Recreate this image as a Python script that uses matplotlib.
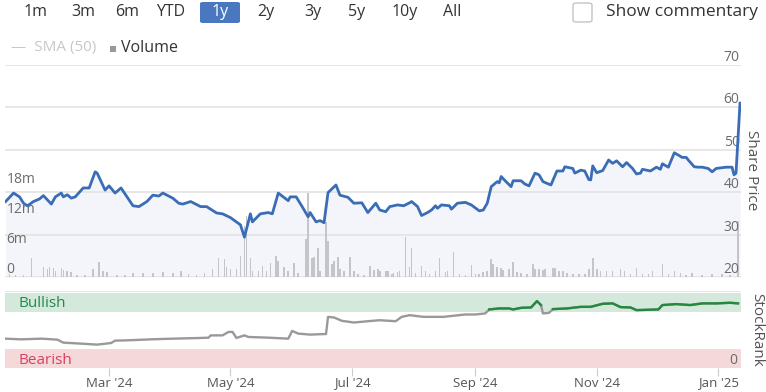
import numpy as np
import matplotlib
matplotlib.use("Agg")
import matplotlib.pyplot as plt
import matplotlib.dates as mdates
from matplotlib.patches import FancyBboxPatch

plt.rcParams['font.family'] = ['Open Sans', 'DejaVu Sans']

# ---- data (days counted from 2024-01-09) ----
start = np.datetime64('2024-01-09')

price_day = [0, 4, 7, 9, 11, 14, 17, 19, 23, 25, 28, 29, 31, 33, 35, 39, 42, 45, 46, 48,
             50, 52, 55, 58, 61, 64, 67, 71, 74, 77, 79, 84, 87, 89, 93, 98, 101, 106, 109, 113,
             118, 120, 123, 124, 128, 132, 134, 137, 142, 143, 146, 149, 152, 153, 156, 158, 160, 162, 166, 168,
             172, 175, 179, 182, 186, 188, 191, 193, 197, 200, 203, 204, 207, 209, 212, 214, 216, 217, 219, 223,
             224, 227, 231, 234, 238, 240, 242, 244, 247, 248, 249, 251, 254, 255, 259, 261, 263, 266, 268, 270,
             274, 277, 280, 281, 285, 286, 289, 291, 293, 294, 295, 297, 300, 303, 305, 307, 310, 312, 315, 317,
             319, 320, 324, 327, 329, 330, 333, 336, 340, 342, 343, 346, 348, 350, 353, 355, 357, 362, 365, 366,
             367, 369]
price = [37.8, 39.8, 38.9, 37.4, 36.8, 37.8, 38.4, 39.2, 37.2, 38.9, 39.8, 38.9, 39.4, 38.6, 38.9, 41.0, 41.0, 44.8, 44.5, 42.5,
         40.5, 41.5, 39.8, 41.0, 38.9, 36.8, 36.6, 37.8, 39.3, 39.1, 39.8, 38.6, 37.4, 37.2, 37.8, 36.6, 36.6, 35.1, 34.9, 34.0,
         32.3, 29.4, 34.9, 33.0, 34.9, 35.2, 34.9, 39.8, 38.0, 38.9, 38.9, 36.6, 34.2, 35.2, 33.0, 33.3, 32.8, 39.9, 41.7, 39.3,
         38.8, 37.4, 37.5, 35.2, 37.4, 35.8, 35.4, 36.6, 37.0, 36.8, 37.5, 37.8, 36.6, 34.5, 35.2, 35.8, 36.8, 36.2, 37.0, 36.8,
         36.0, 37.4, 37.6, 37.0, 35.6, 35.8, 37.4, 41.3, 42.5, 42.2, 43.7, 42.7, 41.3, 42.7, 42.7, 41.9, 41.5, 44.5, 44.1, 42.5,
         41.7, 45.0, 45.0, 46.0, 45.6, 44.5, 45.2, 45.0, 43.0, 42.9, 46.2, 44.6, 45.1, 47.6, 46.8, 47.4, 46.0, 47.0, 45.6, 44.3,
         44.5, 45.4, 45.0, 45.9, 45.4, 46.7, 45.9, 49.3, 48.2, 48.2, 47.6, 46.0, 45.9, 45.9, 45.6, 44.8, 45.6, 45.9, 45.9, 44.1,
         44.5, 61.0]

vol_day = [2, 5, 9, 13, 19, 21, 22, 24, 25, 28, 29, 31, 33, 36, 40, 44, 47, 49, 51, 56,
           60, 64, 69, 74, 79, 84, 88, 92, 96, 100, 104, 107, 110, 111, 113, 116, 118, 120, 121, 123,
           124, 127, 129, 131, 133, 136, 137, 140, 142, 145, 147, 151, 152, 154, 155, 157, 158, 161, 162, 164,
           165, 167, 168, 170, 173, 175, 177, 180, 183, 185, 187, 188, 191, 192, 194, 195, 197, 198, 201, 203,
           204, 206, 209, 211, 213, 216, 218, 221, 222, 225, 228, 231, 234, 236, 238, 240, 242, 244, 245, 247,
           249, 250, 253, 255, 257, 259, 262, 265, 266, 268, 270, 271, 275, 276, 278, 280, 282, 285, 288, 291,
           293, 295, 297, 299, 302, 305, 309, 311, 314, 317, 320, 323, 325, 330, 333, 336, 339, 342, 345, 350,
           355, 360, 364, 368]
volume = [0.6, 0.4, 0.5, 3.9, 2.1, 1.7, 2.0, 1.9, 1.3, 1.9, 1.5, 1.3, 1.0, 0.5, 0.4, 1.7, 3.1, 1.2, 1.0, 0.5,
          0.5, 0.9, 0.9, 0.9, 1.1, 0.9, 1.3, 0.6, 0.5, 0.9, 1.7, 3.9, 3.7, 2.1, 1.7, 1.7, 4.3, 10.3, 12.3, 3.9,
          1.2, 1.2, 2.3, 1.2, 2.9, 4.3, 3.3, 2.1, 1.2, 2.8, 0.9, 7.7, 16.9, 3.9, 4.1, 5.9, 1.3, 11.0, 7.3, 2.7,
          3.3, 4.1, 1.7, 1.3, 4.1, 1.3, 0.7, 0.5, 2.3, 1.5, 1.7, 1.3, 1.2, 1.2, 0.7, 0.9, 1.0, 1.2, 8.0, 2.1,
          5.9, 0.8, 2.3, 1.3, 0.6, 1.2, 3.9, 1.0, 1.2, 5.1, 0.7, 0.5, 2.5, 0.6, 0.7, 1.0, 1.3, 3.7, 2.7, 2.0,
          1.9, 1.5, 1.7, 3.1, 1.0, 0.8, 0.6, 2.7, 1.7, 1.7, 1.5, 1.7, 1.9, 1.9, 1.3, 1.2, 0.9, 0.7, 0.7, 0.7,
          1.7, 3.9, 1.7, 1.3, 1.2, 1.3, 1.7, 1.2, 0.6, 1.9, 0.7, 0.6, 1.3, 2.7, 0.6, 1.2, 0.9, 0.5, 0.9, 0.5,
          0.7, 0.7, 0.5, 11.3]

rank_day = [0, 8, 18, 26, 29, 38, 46, 53, 55, 61, 73, 84, 98, 102, 103, 109, 112, 114, 116, 120,
            122, 132, 142, 144, 147, 153, 161, 162, 165, 169, 175, 182, 188, 196, 199, 203, 210, 220, 231, 236,
            241, 243, 248, 253, 255, 259, 264, 267, 269, 270, 273, 275, 282, 289, 294, 300, 305, 309, 314, 317,
            328, 330, 337, 344, 350, 357, 364, 368]
rank = [37.7, 36.8, 37.7, 36.4, 32.5, 31.2, 29.9, 32.0, 35.1, 35.5, 36.8, 37.7, 38.6, 39.0, 42.0, 42.0, 46.5, 46.5, 38.6, 42.0,
        39.9, 39.0, 37.7, 47.8, 44.3, 43.0, 43.8, 66.2, 65.4, 61.0, 58.8, 60.5, 61.8, 60.5, 66.2, 68.4, 66.2, 66.2, 69.3, 69.3,
        70.7, 75.9, 77.2, 77.2, 75.9, 78.0, 78.5, 86.8, 81.6, 70.7, 71.4, 76.3, 77.2, 79.3, 79.3, 83.3, 83.8, 78.9, 78.5, 75.0,
        75.9, 81.6, 82.9, 81.6, 83.8, 83.8, 84.6, 83.8]

range_buttons = ['1m', '3m', '6m', 'YTD', '1y', '2y', '3y', '5y', '10y', 'All']
price_ticks = [20, 30, 40, 50, 60, 70]
vol_ticks = [0, 6, 12, 18]
vol_tick_labels = ['0', '6m', '12m', '18m']

W, H = 766, 392
fig = plt.figure(figsize=(W / 100, H / 100), dpi=100)


def fx(px):
    return px / W


def fy(py):
    return 1 - py / H


p_dates = start + np.array(price_day).astype('timedelta64[D]')
v_dates = start + np.array(vol_day).astype('timedelta64[D]')
r_dates = start + np.array(rank_day).astype('timedelta64[D]')
x0 = mdates.date2num(start)
xlim = (x0 - 0.3, x0 + 369.5)

top_rect = [fx(5), fy(277), fx(736), 212 / H]
ax_fill = fig.add_axes(top_rect)
ax_vol = fig.add_axes(top_rect)
ax_line = fig.add_axes(top_rect)

# background fill and price grid
ax_fill.fill_between(p_dates, price, 20, color='#f3f5fa', lw=0)
for v in price_ticks:
    ax_fill.axhline(v, color='#e3e3e3', lw=1.2)
ax_fill.set_ylim(20, 70)
ax_fill.set_xlim(xlim)
ax_fill.axis('off')

# volume bars
ax_vol.bar(v_dates, volume, width=0.8, color='#c3c5c9', lw=0)
ax_vol.set_ylim(0, 42.4)
ax_vol.set_xlim(xlim)
ax_vol.patch.set_visible(False)
for s in ax_vol.spines.values():
    s.set_visible(False)
ax_vol.set_xticks([])
ax_vol.set_yticks(vol_ticks)
ax_vol.set_yticklabels(vol_tick_labels)
ax_vol.tick_params(axis='y', length=0, pad=-1, labelsize=10, labelcolor='#6b6b6b')
for lab in ax_vol.get_yticklabels():
    lab.set_ha('left')
    lab.set_va('bottom')

# price line
ax_line.plot(p_dates, price, color='#3a6db5', lw=2.0, solid_joinstyle='round')
ax_line.set_ylim(20, 70)
ax_line.set_xlim(xlim)
ax_line.patch.set_visible(False)
for s in ax_line.spines.values():
    s.set_visible(False)
ax_line.set_xticks([])
ax_line.yaxis.tick_right()
ax_line.set_yticks(price_ticks)
ax_line.tick_params(axis='y', length=0, pad=-1, labelsize=10, labelcolor='#6b6b6b')
for lab in ax_line.get_yticklabels():
    lab.set_ha('right')
    lab.set_va('bottom')
fig.text(fx(752), fy(170), 'Share Price', rotation=-90, ha='center', va='center',
         fontsize=11, color='#555555')

# StockRank panel
ax_r = fig.add_axes([fx(5), fy(367.5), fx(736), 76.5 / H])
ax_r.axhspan(72.4, 97.4, color='#d4e9dc', lw=0)
ax_r.axhspan(0, 23.7, color='#f4d8da', lw=0)
ax_r.axhline(100, color='#e3e3e3', lw=1.2)
rank_arr = np.array(rank)
ax_r.plot(r_dates, rank_arr, color='#999999', lw=1.7)
ax_r.plot(r_dates, np.where(rank_arr >= 72.4, rank_arr, np.nan), color='#23893d', lw=1.7)
ax_r.text(0.018, 0.84, 'Bullish', transform=ax_r.transAxes, color='#1f8a4c', fontsize=11,
          va='center', ha='left')
ax_r.text(0.018, 0.09, 'Bearish', transform=ax_r.transAxes, color='#d8415e', fontsize=11,
          va='center', ha='left')
ax_r.set_ylim(0, 100)
ax_r.set_xlim(xlim)
for s in ax_r.spines.values():
    s.set_visible(False)
ax_r.yaxis.tick_right()
ax_r.set_yticks([0])
ax_r.tick_params(axis='y', length=0, pad=-3, labelsize=10, labelcolor='#6b6b6b')
for lab in ax_r.get_yticklabels():
    lab.set_ha('right')
    lab.set_va('bottom')
ax_r.xaxis.set_major_locator(mdates.MonthLocator(bymonth=[1, 3, 5, 7, 9, 11]))
ax_r.xaxis.set_major_formatter(mdates.DateFormatter("%b '%y"))
ax_r.tick_params(axis='x', length=6, color='#cccccc', labelsize=9.5, labelcolor='#555555', pad=0.5)
fig.text(fx(757), fy(330), 'StockRank', rotation=-90, ha='center', va='center',
         fontsize=11, color='#555555')

# range selector
btn_x = [36, 83, 127, 171, 220, 266, 313, 357, 405, 452]
for lbl, bx in zip(range_buttons, btn_x):
    if lbl == '1y':
        fig.patches.append(FancyBboxPatch((fx(200), fy(23)), fx(40), 21 / H,
                                          boxstyle='round,pad=0,rounding_size=0.004',
                                          transform=fig.transFigure, fc='#4a78c0', ec='none'))
        fig.text(fx(bx), fy(12), lbl, ha='center', va='center', fontsize=11.5, color='white')
    else:
        fig.text(fx(bx), fy(12), lbl, ha='center', va='center', fontsize=11.5, color='#333333')

fig.patches.append(FancyBboxPatch((fx(573), fy(22)), fx(19), 19 / H,
                                  boxstyle='round,pad=0,rounding_size=0.005',
                                  transform=fig.transFigure, fc='white', ec='#c4c4c4', lw=1))
fig.text(fx(606), fy(12), 'Show commentary', ha='left', va='center', fontsize=12.5, color='#333333')

# legend
fig.text(fx(11), fy(48), '—  SMA (50)', ha='left', va='center', fontsize=11, color='#c8c8c8')
fig.patches.append(plt.Rectangle((fx(110), fy(52)), fx(6), 6 / H, transform=fig.transFigure,
                                 fc='#9a9a9a', ec='none'))
fig.text(fx(121), fy(48), 'Volume', ha='left', va='center', fontsize=11.5, color='#333333')

fig.savefig('out.png', dpi=100)
